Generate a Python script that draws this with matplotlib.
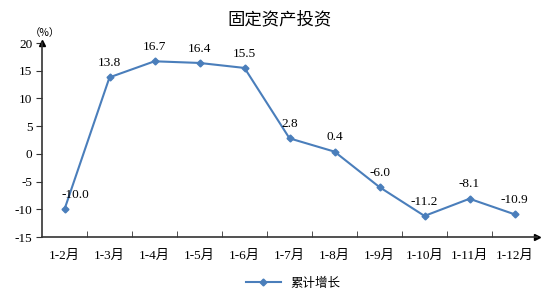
import matplotlib
matplotlib.use("Agg")
import matplotlib.pyplot as plt

categories = ["1-2月", "1-3月", "1-4月", "1-5月", "1-6月", "1-7月", "1-8月", "1-9月", "1-10月", "1-11月", "1-12月"]
values = [-10.0, 13.8, 16.7, 16.4, 15.5, 2.8, 0.4, -6.0, -11.2, -8.1, -10.9]
yticks = [-15, -10, -5, 0, 5, 10, 15, 20]
title = "固定资产投资"
series_name = "累计增长"

fam = ["Liberation Serif", "Noto Sans CJK SC"]
plt.rcParams["font.family"] = fam

fig = plt.figure(figsize=(5.58, 3.0), dpi=100)
ax = fig.add_axes([42/558, 1 - 237/300, (537-42)/558, (237-43)/300])

color = "#4a7ebb"
x = list(range(len(categories)))
ax.plot(x, values, color=color, lw=1.5, marker="D", ms=3.5, label=series_name)

for i, v in enumerate(values):
    dx = 8 if i == 0 else 0
    ax.annotate(f"{v:.1f}", (i, v), xytext=(dx, 6), textcoords="offset points",
                ha="center", va="bottom", fontsize=9.5, family=fam)

ax.set_xlim(-0.5, len(categories) - 0.5)
ax.set_ylim(-15, 20)
ax.set_yticks(yticks)
ax.set_yticklabels([str(t) for t in yticks], fontsize=9.5)
ax.set_xticks(x)
ax.set_xticklabels(categories, fontsize=9.5)
ax.set_xticks([i + 0.5 for i in range(len(categories) - 1)], minor=True)
ax.tick_params(axis="x", which="major", length=0, pad=9)
ax.tick_params(axis="x", which="minor", length=4, direction="in", color="#333333")
ax.tick_params(axis="y", length=4, direction="out", color="#333333", pad=3)

for s in ["top", "right"]:
    ax.spines[s].set_visible(False)
for s in ["left", "bottom"]:
    ax.spines[s].set_color("#333333")
    ax.spines[s].set_linewidth(1.2)

# arrows
ax.plot(1, 0, ">", color="black", ms=5, transform=ax.transAxes, clip_on=False)
ax.plot(0, 1, "^", color="black", ms=5, transform=ax.transAxes, clip_on=False)

fig.text(30/558, 1 - 33/300, "（%）", fontsize=7.5, ha="left", va="center", family=["Noto Sans CJK SC"])

fig.text(280/558, 1 - 19/300, title, ha="center", va="center", fontsize=12.5, family=["Noto Sans CJK SC"])

leg = fig.legend(loc="center", bbox_to_anchor=(293/558, 1 - 283/300), frameon=False,
                 prop={"family": ["Noto Sans CJK SC"], "size": 9}, handlelength=2.8)

fig.savefig("out.png", dpi=100)
